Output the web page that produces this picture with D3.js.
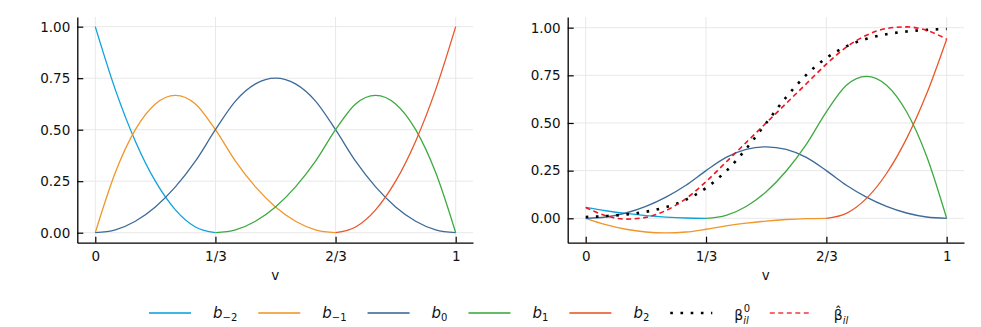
<!DOCTYPE html>
<html>
<head>
<meta charset="utf-8">
<script src="https://cdn.jsdelivr.net/npm/d3@7/dist/d3.min.js"></script>
<style>
  body { margin: 0; background: #fff; }
  svg { display: block; font-family: "DejaVu Sans", sans-serif; }
</style>
</head>
<body>
<div id="chart"></div>
<script>
// sample grid on v (knots at 0, 1/3, 2/3, 1); null = outside the support, not drawn
const vSamples = [0, 1/18, 2/18, 3/18, 4/18, 5/18, 6/18, 7/18, 8/18, 9/18, 10/18, 11/18, 12/18, 13/18, 14/18, 15/18, 16/18, 17/18, 1];

const xTicks = [0, 1/3, 2/3, 1];
const xTickLabels = ["0", "1/3", "2/3", "1"];
const yTicks = [0, 0.25, 0.5, 0.75, 1];
const yTickLabels = ["0.00", "0.25", "0.50", "0.75", "1.00"];

// left panel: basis functions
const basisBm2 = [1, 0.6944, 0.4444, 0.25, 0.1111, 0.0278, 0, null, null, null, null, null, null, null, null, null, null, null, null];
const basisBm1 = [0, 0.2917, 0.5, 0.625, 0.6667, 0.625, 0.5, 0.3472, 0.2222, 0.125, 0.0556, 0.0139, 0, null, null, null, null, null, null];
const basisB0  = [0, 0.0139, 0.0556, 0.125, 0.2222, 0.3472, 0.5, 0.6389, 0.7222, 0.75, 0.7222, 0.6389, 0.5, 0.3472, 0.2222, 0.125, 0.0556, 0.0139, 0];
const basisB1  = [null, null, null, null, null, null, 0, 0.0139, 0.0556, 0.125, 0.2222, 0.3472, 0.5, 0.625, 0.6667, 0.625, 0.5, 0.2917, 0];
const basisB2  = [null, null, null, null, null, null, null, null, null, null, null, null, 0, 0.0278, 0.1111, 0.25, 0.4444, 0.6944, 1];

// right panel: scaled basis, true and estimated curve
const scaledBm2 = [0.057, 0.0396, 0.0253, 0.0143, 0.0063, 0.0016, 0, null, null, null, null, null, null, null, null, null, null, null, null];
const scaledBm1 = [0, -0.0335, -0.0575, -0.0719, -0.0767, -0.0719, -0.0575, -0.0399, -0.0256, -0.0144, -0.0064, -0.0016, 0, null, null, null, null, null, null];
const scaledB0  = [0, 0.0069, 0.0278, 0.0625, 0.1111, 0.1736, 0.25, 0.3194, 0.3611, 0.375, 0.3611, 0.3194, 0.25, 0.1736, 0.1111, 0.0625, 0.0278, 0.0069, 0];
const scaledB1  = [null, null, null, null, null, null, 0, 0.0155, 0.0621, 0.1397, 0.2483, 0.388, 0.5588, 0.6984, 0.745, 0.6984, 0.5588, 0.326, 0];
const scaledB2  = [null, null, null, null, null, null, null, null, null, null, null, null, 0, 0.0261, 0.1044, 0.235, 0.4178, 0.6528, 0.94];
const betaTrue  = [0.0067, 0.0116, 0.02, 0.0344, 0.0585, 0.0977, 0.159, 0.2477, 0.3645, 0.5, 0.6355, 0.7523, 0.841, 0.9023, 0.9415, 0.9656, 0.98, 0.9884, 0.9933];
const betaHat   = [0.057, 0.013, -0.0044, 0.0049, 0.0407, 0.1033, 0.1925, 0.295, 0.3976, 0.5003, 0.603, 0.7058, 0.8088, 0.8981, 0.9605, 0.9959, 1.0044, 0.9857, 0.94];

const basisColors = ["#0ea2de", "#f0962a", "#3d6a98", "#3daa3f", "#e8582b"];
const basisSubs = ["−2", "−1", "0", "1", "2"];

const W = 981, H = 327;
const svg = d3.select("#chart").append("svg")
  .attr("width", W)
  .attr("height", H);

function drawPanel(p) {
  const g = svg.append("g");
  const x = d3.scaleLinear().domain(p.xDomain).range([p.left, p.right]);
  const y = d3.scaleLinear().domain(p.yDomain).range([p.bottom, p.top]);

  // grid
  g.selectAll(".gx").data(xTicks).enter().append("line")
    .attr("x1", d => x(d)).attr("x2", d => x(d))
    .attr("y1", p.top).attr("y2", p.bottom)
    .attr("stroke", "#e8e8e8").attr("stroke-width", 1);
  g.selectAll(".gy").data(yTicks).enter().append("line")
    .attr("x1", p.left).attr("x2", p.right)
    .attr("y1", d => y(d)).attr("y2", d => y(d))
    .attr("stroke", "#e8e8e8").attr("stroke-width", 1);

  // axes
  const ax = g.append("g")
    .attr("transform", `translate(0,${p.bottom})`)
    .call(d3.axisBottom(x).tickValues(xTicks).tickFormat((d, i) => xTickLabels[i])
      .tickSizeInner(-6).tickSizeOuter(0).tickPadding(9));
  const ay = g.append("g")
    .attr("transform", `translate(${p.left},0)`)
    .call(d3.axisLeft(y).tickValues(yTicks).tickFormat((d, i) => yTickLabels[i])
      .tickSizeInner(-6).tickSizeOuter(0).tickPadding(7));
  [ax, ay].forEach(a => {
    a.attr("font-size", 13.5).attr("font-family", "DejaVu Sans, sans-serif");
    a.select(".domain").attr("stroke", "#000").attr("stroke-width", 1.3);
    a.selectAll(".tick line").attr("stroke", "#000").attr("stroke-width", 1.2);
    a.selectAll(".tick text").attr("fill", "#111");
  });

  g.append("text")
    .attr("x", (p.left + p.right) / 2)
    .attr("y", 280)
    .attr("text-anchor", "middle")
    .attr("font-size", 13.5)
    .attr("fill", "#111")
    .text("v");

  const line = d3.line()
    .defined(d => d !== null)
    .x((d, i) => x(vSamples[i]))
    .y(d => y(d))
    .curve(d3.curveMonotoneX);

  p.series.forEach(s => {
    g.append("path")
      .datum(s.values)
      .attr("d", line)
      .attr("fill", "none")
      .attr("stroke", s.color)
      .attr("stroke-width", s.width || 1.3)
      .attr("stroke-dasharray", s.dash || null);
  });
}

drawPanel({
  left: 77.3, right: 473, top: 17, bottom: 242.7,
  xDomain: [-0.0499, 1.048], yDomain: [-0.0485, 1.047],
  series: [basisBm2, basisBm1, basisB0, basisB1, basisB2].map((v, i) => ({ values: v, color: basisColors[i] }))
});

drawPanel({
  left: 567.7, right: 964, top: 17, bottom: 242.7,
  xDomain: [-0.0499, 1.048], yDomain: [-0.128, 1.056],
  series: [scaledBm2, scaledBm1, scaledB0, scaledB1, scaledB2].map((v, i) => ({ values: v, color: basisColors[i] }))
    .concat([
      { values: betaTrue, color: "#000", width: 2.6, dash: "2.6,7.6" },
      { values: betaHat, color: "#f0141e", width: 1.6, dash: "5,3.5" }
    ])
});

// legend
const legend = svg.append("g");
const ly = 313;
let lx = 149;
const items = basisColors.map((c, i) => ({ kind: "b", color: c, sub: basisSubs[i] }))
  .concat([{ kind: "beta0", color: "#000" }, { kind: "betahat", color: "#f0141e" }]);

items.forEach(it => {
  const l = legend.append("line")
    .attr("x1", lx).attr("x2", lx + 42)
    .attr("y1", ly).attr("y2", ly)
    .attr("stroke", it.color);
  if (it.kind === "b") {
    l.attr("stroke-width", 2).attr("stroke-opacity", 0.8);
  } else if (it.kind === "beta0") {
    l.attr("stroke-width", 2.6).attr("stroke-dasharray", "2.6,7.6");
  } else {
    l.attr("stroke-width", 1.6).attr("stroke-dasharray", "5,3.5").attr("stroke-opacity", 0.85);
  }
  const tx = lx + 64;
  let wLabel;
  if (it.kind === "b") {
    const t = legend.append("text")
      .attr("x", tx).attr("y", 318)
      .attr("font-size", 15).attr("fill", "#111");
    t.append("tspan").attr("font-style", "italic").text("b");
    t.append("tspan").attr("font-size", 10).attr("dy", 3).text(it.sub);
    wLabel = t.node().getComputedTextLength();
  } else {
    const b = legend.append("text")
      .attr("x", tx).attr("y", 320)
      .attr("font-size", 14).attr("fill", "#111")
      .text(it.kind === "beta0" ? "β" : "β\u0302");
    const bw = b.node().getComputedTextLength();
    if (it.kind === "beta0") {
      legend.append("text").attr("x", tx + bw + 0.5).attr("y", 311.5)
        .attr("font-size", 10).attr("fill", "#111").text("0");
    }
    const s = legend.append("text").attr("x", tx + bw).attr("y", 324)
      .attr("font-size", 10).attr("font-style", "italic").attr("fill", "#111").text("il");
    wLabel = bw + s.node().getComputedTextLength();
  }
  lx = tx + wLabel + 21;
});
</script>
</body>
</html>
